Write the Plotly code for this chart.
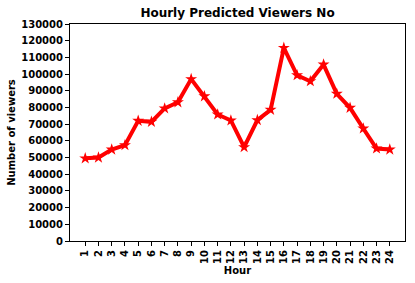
import plotly.graph_objects as go

hours = list(range(1, 25))
viewers = [49500, 50000, 54800, 57400, 72000, 71400, 79400, 83100, 97000, 86700,
           75800, 72200, 56200, 72400, 78600, 115700, 99300, 95700, 105700, 88200,
           79800, 67400, 55400, 54800]
y_ticks = list(range(0, 130001, 10000))

font = dict(family="DejaVu Sans", size=10, color="black")

fig = go.Figure(go.Scatter(
    x=hours, y=viewers, mode="lines+markers",
    line=dict(color="red", width=4),
    marker=dict(symbol="star", size=9, color="red"),
))

fig.update_layout(
    width=415, height=283,
    margin=dict(l=70, r=10, t=24, b=42),
    paper_bgcolor="white", plot_bgcolor="white",
    showlegend=False,
    font=font,
    title=dict(text="<b>Hourly Predicted Viewers No</b>", x=(70 + 405) / 2 / 415, xanchor="center",
               y=1 - 13 / 283, yanchor="middle", yref="container",
               font=dict(family="DejaVu Sans", size=12, color="black")),
)
fig.update_xaxes(
    range=[-0.15, 25.15], tickmode="array", tickvals=hours,
    ticktext=[f"<b>{h}</b>" for h in hours], tickangle=-90,
    showgrid=False, zeroline=False, showline=True, linecolor="black", linewidth=1, mirror=True,
    ticks="outside", ticklen=4, tickcolor="black", automargin=False,
    title=dict(text="<b>Hour</b>", font=font, standoff=4),
)
fig.update_yaxes(
    range=[0, 130000], tickmode="array", tickvals=y_ticks,
    ticktext=[f"<b>{v}</b>" for v in y_ticks],
    showgrid=False, zeroline=False, showline=True, linecolor="black", linewidth=1, mirror=True,
    ticks="outside", ticklen=4, tickcolor="black", automargin=False,
    title=dict(text="<b>Number of viewers</b>", font=font, standoff=3),
)

fig.write_html("out.html")
